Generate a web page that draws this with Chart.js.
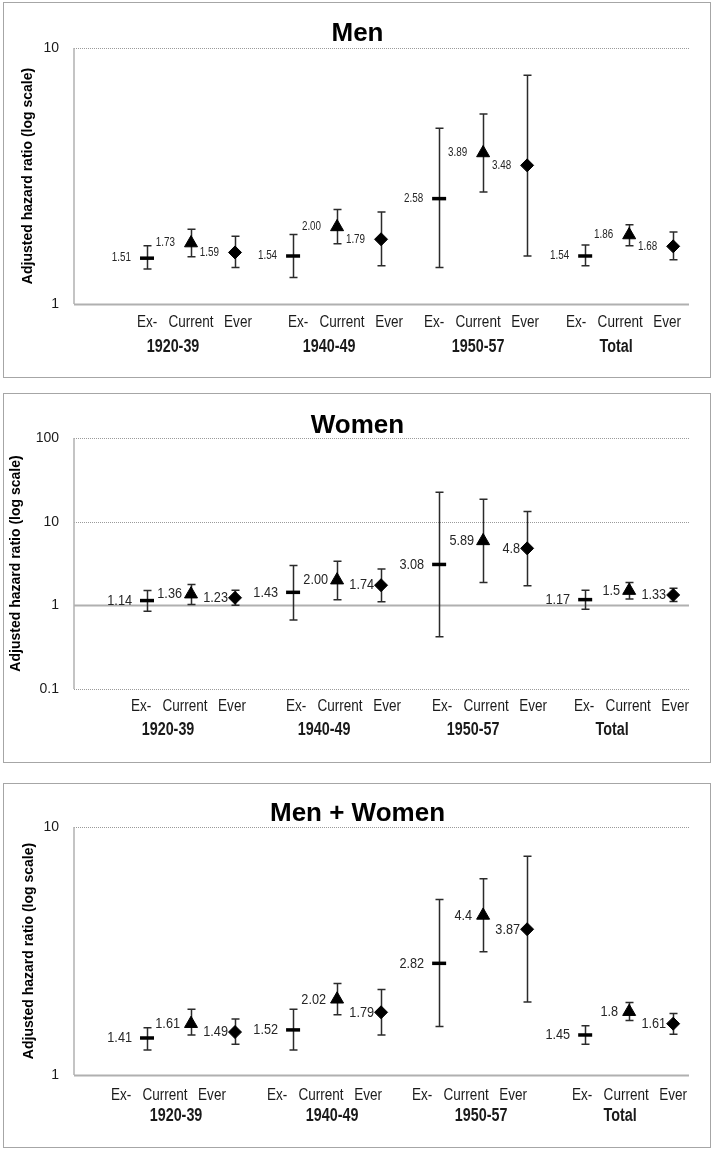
<!DOCTYPE html>
<html>
<head>
<meta charset="utf-8">
<script src="https://cdn.jsdelivr.net/npm/chart.js@4.4.0/dist/chart.umd.min.js"></script>
<style>
  body { margin: 0; background: #fff; }
  .frame { position: absolute; left: 3px; width: 708px; border: 1px solid #a6a6a6; box-sizing: border-box; }
  canvas { position: absolute; left: 0; }
</style>
</head>
<body>
<div class="frame" style="top:2px;height:376px"></div>
<div class="frame" style="top:393px;height:370px"></div>
<div class="frame" style="top:783px;height:365px"></div>
<canvas id="c0" width="715" height="380" style="top:0px"></canvas>
<canvas id="c1" width="715" height="380" style="top:385px"></canvas>
<canvas id="c2" width="715" height="380" style="top:770px"></canvas>
<script>
// categories
const groups = ['1920-39', '1940-49', '1950-57', 'Total'];
const statuses = ['Ex-', 'Current', 'Ever'];

// values, ordered group by group: Ex-, Current, Ever
const menHR   = [1.51, 1.73, 1.59, 1.54, 2.00, 1.79, 2.58, 3.89, 3.48, 1.54, 1.86, 1.68];
const menLow  = [1.37, 1.53, 1.39, 1.27, 1.72, 1.41, 1.39, 2.74, 1.54, 1.41, 1.69, 1.49];
const menHigh = [1.69, 1.96, 1.84, 1.87, 2.34, 2.29, 4.86, 5.52, 7.82, 1.70, 2.04, 1.91];
const menText = ['1.51', '1.73', '1.59', '1.54', '2.00', '1.79', '2.58', '3.89', '3.48', '1.54', '1.86', '1.68'];

const womenHR   = [1.14, 1.36, 1.23, 1.43, 2.00, 1.74, 3.08, 5.89, 4.8, 1.17, 1.5, 1.33];
const womenLow  = [0.85, 1.02, 1.00, 0.67, 1.17, 1.10, 0.42, 1.87, 1.72, 0.90, 1.19, 1.11];
const womenHigh = [1.50, 1.77, 1.51, 3.00, 3.36, 2.72, 22.4, 18.5, 13.2, 1.51, 1.88, 1.60];
const womenText = ['1.14', '1.36', '1.23', '1.43', '2.00', '1.74', '3.08', '5.89', '4.8', '1.17', '1.5', '1.33'];

const allHR   = [1.41, 1.61, 1.49, 1.52, 2.02, 1.79, 2.82, 4.4, 3.87, 1.45, 1.8, 1.61];
const allLow  = [1.26, 1.45, 1.33, 1.26, 1.75, 1.45, 1.57, 3.14, 1.97, 1.33, 1.66, 1.46];
const allHigh = [1.55, 1.84, 1.68, 1.84, 2.34, 2.21, 5.10, 6.19, 7.62, 1.58, 1.96, 1.77];
const allText = ['1.41', '1.61', '1.49', '1.52', '2.02', '1.79', '2.82', '4.4', '3.87', '1.45', '1.8', '1.61'];

// tick labels
const menTicks = [1, 10];
const womenTicks = [0.1, 1, 10, 100];
const allTicks = [1, 10];

const SANS = '"Liberation Sans", Arial, sans-serif';
const SQUEEZE = 0.82; // narrow text like the Calibri labels of the original
const GROUP_STEP = 3.32;

const panels = [
  { title: 'Men', hr: menHR, low: menLow, high: menHigh, text: menText, ticks: menTicks,
    top: 48, bottom: 304, titleY: 34, yTitleX: 28.5, labelSize: 12, labelGap: [16, 16, 16],
    rowY: 18, groupY: 43, tickShift: [1, 6, -4, -8], groupShift: [-18, -8, -5, -13] },
  { title: 'Women', hr: womenHR, low: womenLow, high: womenHigh, text: womenText, ticks: womenTicks,
    top: 53, bottom: 304, titleY: 41, yTitleX: 16.5, labelSize: 15.5, labelGap: [15, 9, 7],
    rowY: 17, groupY: 41, tickShift: [-5, 4, 4, 0], groupShift: [-23, -13, -10, -17] },
  { title: 'Men + Women', hr: allHR, low: allLow, high: allHigh, text: allText, ticks: allTicks,
    top: 57, bottom: 305, titleY: 44, yTitleX: 29, labelSize: 15.5, labelGap: [15, 11, 7],
    rowY: 20, groupY: 41, tickShift: [-25, -15, -16, -2], groupShift: [-15, -5, -2, -9] }
];

function narrowText(ctx, txt, x, y) {
  ctx.save();
  ctx.translate(x, y);
  ctx.scale(SQUEEZE, 1);
  ctx.fillText(txt, 0, 0);
  ctx.restore();
}

function makeDecor(p) {
  return {
    id: 'decor',
    beforeDatasetsDraw(chart) {
      const { ctx, chartArea: a, scales: { x, y } } = chart;
      ctx.save();
      // grid lines: solid at 1, dotted elsewhere
      p.ticks.forEach(v => {
        const py = Math.round(y.getPixelForValue(v));
        ctx.beginPath();
        if (v === 1) {
          ctx.strokeStyle = '#b0b0b0'; ctx.lineWidth = 2; ctx.setLineDash([]);
        } else {
          ctx.strokeStyle = '#9a9a9a'; ctx.lineWidth = 1; ctx.setLineDash([1, 1]);
        }
        ctx.moveTo(a.left, py + 0.5); ctx.lineTo(a.right, py + 0.5); ctx.stroke();
      });
      ctx.setLineDash([]);
      ctx.strokeStyle = '#b0b0b0'; ctx.lineWidth = 1.5;
      ctx.beginPath(); ctx.moveTo(a.left, a.top); ctx.lineTo(a.left, a.bottom); ctx.stroke();
      // error bars
      ctx.strokeStyle = '#2b2b2b'; ctx.lineWidth = 1.5;
      chart.data.datasets.forEach(ds => ds.data.forEach(pt => {
        const px = Math.round(x.getPixelForValue(pt.x)) + 0.5;
        const pl = y.getPixelForValue(pt.lo), ph = y.getPixelForValue(pt.hi);
        ctx.beginPath();
        ctx.moveTo(px, pl); ctx.lineTo(px, ph);
        ctx.moveTo(px - 4, pl); ctx.lineTo(px + 4, pl);
        ctx.moveTo(px - 4, ph); ctx.lineTo(px + 4, ph);
        ctx.stroke();
      }));
      ctx.restore();
    },
    afterDatasetsDraw(chart) {
      const { ctx, chartArea: a, scales: { x, y } } = chart;
      ctx.save();
      ctx.fillStyle = '#262626';
      // value labels
      ctx.font = p.labelSize + 'px ' + SANS;
      ctx.textAlign = 'right'; ctx.textBaseline = 'middle';
      chart.data.datasets.forEach((ds, s) => ds.data.forEach(pt => {
        narrowText(ctx, pt.text, x.getPixelForValue(pt.x) - p.labelGap[s], y.getPixelForValue(pt.y));
      }));
      // category labels
      ctx.fillStyle = '#1a1a1a';
      ctx.textAlign = 'center';
      const seriesShift = [-1, -1, 2];
      groups.forEach((g, gi) => {
        ctx.font = '16.5px ' + SANS;
        statuses.forEach((st, s) => {
          const px = x.getPixelForValue(gi * GROUP_STEP + s) + p.tickShift[gi] + seriesShift[s];
          narrowText(ctx, st, px, a.bottom + p.rowY);
        });
        ctx.font = 'bold 17.5px ' + SANS;
        narrowText(ctx, g, x.getPixelForValue(gi * GROUP_STEP + 1) + p.groupShift[gi], a.bottom + p.groupY);
      });
      // title
      ctx.fillStyle = '#000';
      ctx.font = 'bold 26px ' + SANS;
      ctx.fillText(p.title, chart.width / 2, p.titleY);
      // y axis title
      ctx.translate(p.yTitleX, (a.top + a.bottom) / 2);
      ctx.rotate(-Math.PI / 2);
      ctx.font = 'bold 14px ' + SANS;
      ctx.fillText('Adjusted hazard ratio (log scale)', 0, 0);
      ctx.restore();
    }
  };
}

const markerStyles = ['line', 'triangle', 'rectRot'];
const markerRadius = [7, 7.5, 6.5];
const markerBorder = [3.5, 1, 1];

panels.forEach((p, i) => {
  const datasets = statuses.map((st, s) => ({
    label: st,
    data: groups.map((g, gi) => {
      const k = gi * 3 + s;
      return { x: gi * GROUP_STEP + s, y: p.hr[k], lo: p.low[k], hi: p.high[k], text: p.text[k] };
    }),
    pointStyle: markerStyles[s],
    pointRadius: markerRadius[s],
    pointBorderWidth: markerBorder[s],
    pointBackgroundColor: '#000',
    pointBorderColor: '#000',
    showLine: false
  }));

  new Chart(document.getElementById('c' + i), {
    type: 'scatter',
    data: { datasets },
    options: {
      responsive: false,
      animation: false,
      events: [],
      layout: { autoPadding: false, padding: { left: 0, right: 26, top: p.top, bottom: 380 - p.bottom } },
      plugins: { legend: { display: false }, tooltip: { enabled: false } },
      scales: {
        x: { type: 'linear', min: -1.66, max: 12.32, display: false },
        y: {
          type: 'logarithmic',
          min: p.ticks[0],
          max: p.ticks[p.ticks.length - 1],
          afterFit: s => { s.width = 74; },
          afterBuildTicks: s => { s.ticks = p.ticks.map(v => ({ value: v })); },
          grid: { display: false, drawTicks: false },
          border: { display: false },
          ticks: {
            padding: 15,
            color: '#1a1a1a',
            font: { family: SANS, size: 14 },
            callback: v => String(v)
          }
        }
      }
    },
    plugins: [makeDecor(p)]
  });
});
</script>
</body>
</html>
